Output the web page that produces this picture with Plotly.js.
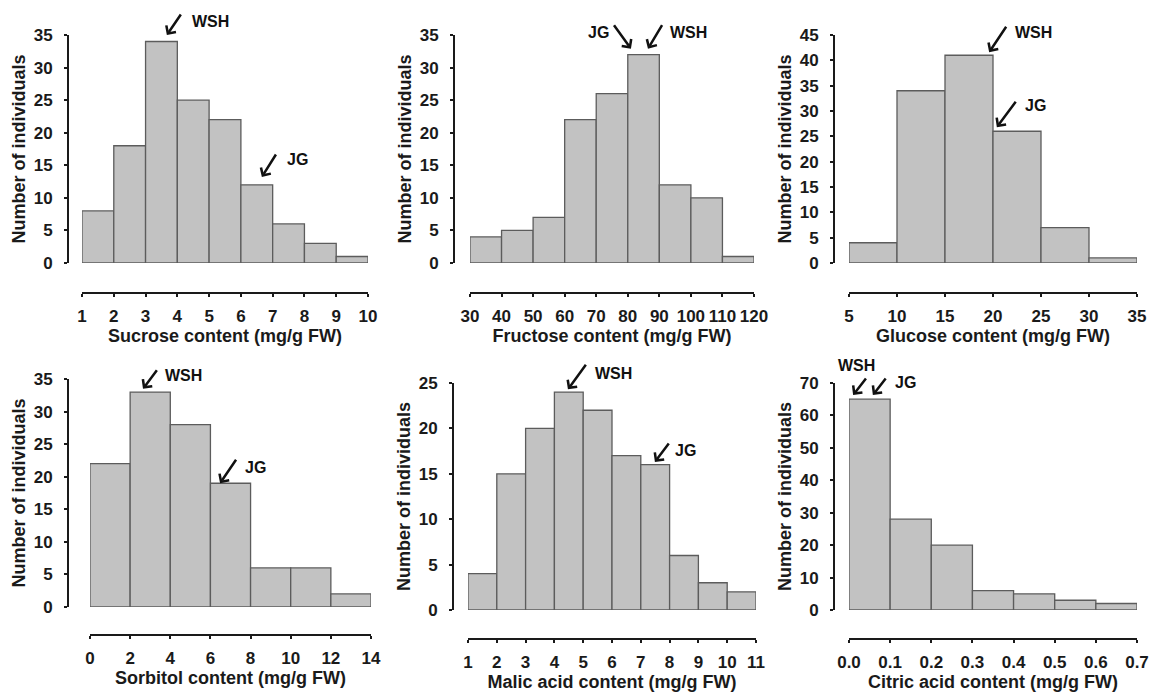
<!DOCTYPE html>
<html>
<head>
<meta charset="utf-8">
<script src="https://cdn.plot.ly/plotly-3.0.1.min.js"></script>
<style>html,body{margin:0;padding:0;background:#fff;}#chart{width:1149px;height:697px;}</style>
</head>
<body>
<div id="chart"></div>
<script>
// ---- data (bin edges and counts) ----
const sucroseEdges = [1, 2, 3, 4, 5, 6, 7, 8, 9, 10];
const sucroseCounts = [8, 18, 34, 25, 22, 12, 6, 3, 1];
const fructoseEdges = [30, 40, 50, 60, 70, 80, 90, 100, 110, 120];
const fructoseCounts = [4, 5, 7, 22, 26, 32, 12, 10, 1];
const glucoseEdges = [5, 10, 15, 20, 25, 30, 35];
const glucoseCounts = [4, 34, 41, 26, 7, 1];
const sorbitolEdges = [0, 2, 4, 6, 8, 10, 12, 14];
const sorbitolCounts = [22, 33, 28, 19, 6, 6, 2];
const malicEdges = [1, 2, 3, 4, 5, 6, 7, 8, 9, 10, 11];
const malicCounts = [4, 15, 20, 24, 22, 17, 16, 6, 3, 2];
const citricEdges = [0, 0.1, 0.2, 0.3, 0.4, 0.5, 0.6, 0.7];
const citricCounts = [65, 28, 20, 6, 5, 3, 2];

const xTitles = ['Sucrose content (mg/g FW)', 'Fructose content (mg/g FW)', 'Glucose content (mg/g FW)',
                 'Sorbitol content (mg/g FW)', 'Malic acid content (mg/g FW)', 'Citric acid content (mg/g FW)'];
const yTitle = 'Number of individuals';
const yMax = [35, 35, 45, 35, 25, 70];
const yStep = [5, 5, 5, 5, 5, 10];
const xStep = [1, 10, 5, 2, 1, 0.1];

// cultivar markers: label, bin value they point at
const markerLabels = {
  p1: [['WSH', 3.67, 35.0], ['JG', 6.66, 13.2]],
  p2: [['JG', 81.0, 32.9], ['WSH', 86.4, 32.9]],
  p3: [['WSH', 19.6, 41.6], ['JG', 20.4, 26.8]],
  p4: [['WSH', 2.64, 33.5], ['JG', 6.48, 19.0]],
  p5: [['WSH', 4.47, 24.3], ['JG', 7.49, 16.3]],
  p6: [['WSH', 0.01, 66.3], ['JG', 0.058, 66.3]]
};

// ---- layout geometry (pixels) ----
const W = 1149, H = 697;
const fx = p => p / W;
const fy = p => 1 - p / H;
const geo = [
  {x0: 82,  x1: 368,  yax: 68,  ybot: 263, ytop: 35,  xline: 293},
  {x0: 470, x1: 754,  yax: 454, ybot: 263, ytop: 35,  xline: 293},
  {x0: 849, x1: 1137, yax: 834, ybot: 263, ytop: 35,  xline: 293},
  {x0: 90,  x1: 371,  yax: 68,  ybot: 607, ytop: 379, xline: 635},
  {x0: 468, x1: 756,  yax: 453, ybot: 610, ytop: 383, xline: 639},
  {x0: 849, x1: 1137, yax: 834, ybot: 610, ytop: 383, xline: 639}
];
// arrow styling per marker: [ax, ay, textAnchor, xshift, yshift]
const arrowStyle = {
  p1: [[15, -22, 'left', 23, 13], [15, -24, 'left', 23, 18]],
  p2: [[-18, -25, 'right', -20, 16], [15, -25, 'left', 20, 16]],
  p3: [[18, -27, 'left', 24, 20], [20, -27, 'left', 26, 22]],
  p4: [[15, -20, 'left', 20, 13], [17, -25, 'left', 23, 16]],
  p5: [[19, -26, 'left', 25, 16], [15, -20, 'left', 18, 11]],
  p6: [[14, -18, 'center', 3, 29], [14, -18, 'left', 20, 12]]
};

const allEdges = [sucroseEdges, fructoseEdges, glucoseEdges, sorbitolEdges, malicEdges, citricEdges];
const allCounts = [sucroseCounts, fructoseCounts, glucoseCounts, sorbitolCounts, malicCounts, citricCounts];

const FONT = 'Liberation Sans, Arial, sans-serif';
const INK = '#1a1a1a';
const traces = [];
const layout = {
  width: W, height: H,
  margin: {l: 0, r: 0, t: 0, b: 0},
  paper_bgcolor: '#ffffff', plot_bgcolor: 'rgba(0,0,0,0)',
  showlegend: false,
  font: {family: FONT, color: INK},
  annotations: []
};

allEdges.forEach((edges, i) => {
  const n = i + 1;
  const sfx = n === 1 ? '' : String(n);
  const counts = allCounts[i];
  const centers = counts.map((c, k) => (edges[k] + edges[k + 1]) / 2);
  const widths = counts.map((c, k) => edges[k + 1] - edges[k]);
  traces.push({
    type: 'bar', x: centers, y: counts, width: widths,
    xaxis: 'x' + sfx, yaxis: 'y' + sfx,
    marker: {color: '#c2c2c2', line: {color: '#5c5c5c', width: 1.3}},
    hoverinfo: 'x+y'
  });
  const g = geo[i];
  layout['xaxis' + sfx] = {
    domain: [fx(g.x0), fx(g.x1)], anchor: 'free', position: fy(g.xline),
    range: [edges[0], edges[edges.length - 1]],
    tick0: edges[0], dtick: xStep[i], tickformat: n === 6 ? '.1f' : '',
    showline: true, linecolor: INK, linewidth: 2,
    ticks: 'outside', ticklen: 3, tickwidth: 2, tickcolor: INK,
    ticklabelstandoff: 5,
    tickfont: {family: FONT, size: 17, weight: 'bold', color: INK},
    showgrid: false, zeroline: false, fixedrange: true,
    title: {text: xTitles[i], font: {family: FONT, size: 18, weight: 'bold', color: INK}, standoff: 2}
  };
  layout['yaxis' + sfx] = {
    domain: [fy(g.ybot), fy(g.ytop)], anchor: 'free', position: fx(g.yax),
    range: [0, yMax[i]], dtick: yStep[i], tick0: 0,
    showline: true, linecolor: INK, linewidth: 2,
    ticks: 'outside', ticklen: 3, tickwidth: 2, tickcolor: INK,
    ticklabelstandoff: 8,
    tickfont: {family: FONT, size: 17, weight: 'bold', color: INK},
    showgrid: false, zeroline: false, fixedrange: true,
    title: {text: yTitle, font: {family: FONT, size: 18, weight: 'bold', color: INK}, standoff: 2}
  };
  const key = 'p' + n;
  markerLabels[key].forEach((m, j) => {
    const st = arrowStyle[key][j];
    layout.annotations.push({
      xref: 'x' + sfx, yref: 'y' + sfx, x: m[1], y: m[2], text: '',
      showarrow: true, arrowhead: 4, arrowsize: 0.9, arrowwidth: 2.5, arrowcolor: '#111',
      ax: st[0], ay: st[1], standoff: 0
    });
    layout.annotations.push({
      xref: 'x' + sfx, yref: 'y' + sfx, x: m[1], y: m[2], text: m[0],
      showarrow: false, xanchor: st[2], yanchor: 'middle', xshift: st[3], yshift: st[4],
      font: {family: FONT, size: 16, weight: 'bold', color: '#111'}
    });
  });
});

Plotly.newPlot('chart', traces, layout, {displayModeBar: false, staticPlot: false});
</script>
</body>
</html>
